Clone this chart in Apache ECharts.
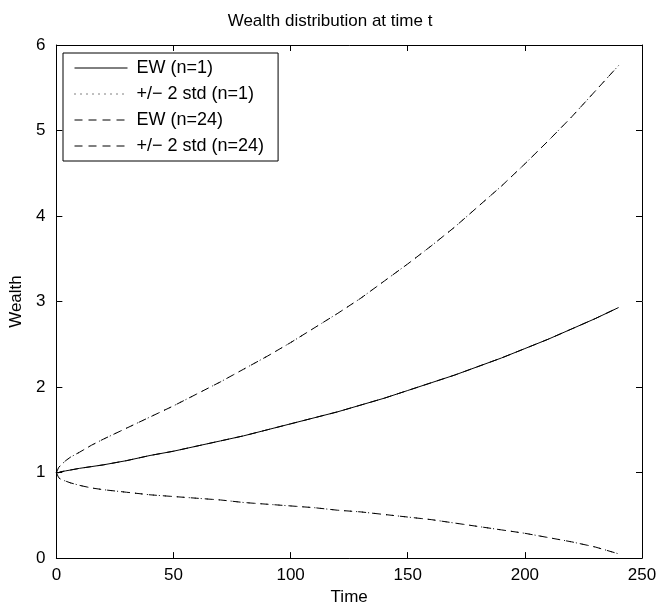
<!DOCTYPE html>
<html>
<head>
<meta charset="utf-8">
<script src="https://cdn.jsdelivr.net/npm/echarts@6/dist/echarts.min.js"></script>
<style>html,body{margin:0;padding:0;background:#fff}#c{width:660px;height:611px}</style>
</head>
<body>
<div id="c"></div>
<script>
// Values
const time   = [0, 1, 2, 4, 6, 10, 15, 20, 30, 40, 50, 60, 70, 80, 90, 100, 110, 120, 130, 140, 150, 160, 170, 180, 190, 200, 210, 220, 230, 240];
const ewN1   = [1.00, 1.00, 1.01, 1.02, 1.03, 1.05, 1.07, 1.09, 1.14, 1.20, 1.25, 1.31, 1.37, 1.43, 1.50, 1.57, 1.64, 1.71, 1.79, 1.87, 1.96, 2.05, 2.14, 2.24, 2.34, 2.45, 2.56, 2.68, 2.80, 2.93];
const upN1   = [1.00, 1.06, 1.09, 1.14, 1.18, 1.24, 1.32, 1.39, 1.52, 1.65, 1.78, 1.92, 2.06, 2.21, 2.36, 2.52, 2.69, 2.86, 3.04, 3.24, 3.44, 3.65, 3.87, 4.11, 4.35, 4.61, 4.88, 5.16, 5.46, 5.76];
const loN1   = [1.00, 0.94, 0.92, 0.90, 0.88, 0.85, 0.82, 0.80, 0.77, 0.74, 0.72, 0.70, 0.68, 0.65, 0.63, 0.61, 0.59, 0.56, 0.54, 0.51, 0.48, 0.45, 0.41, 0.37, 0.33, 0.29, 0.24, 0.19, 0.13, 0.05];
const ewN24  = [1.00, 1.00, 1.01, 1.02, 1.03, 1.05, 1.07, 1.09, 1.14, 1.20, 1.25, 1.31, 1.37, 1.43, 1.50, 1.57, 1.64, 1.71, 1.79, 1.87, 1.96, 2.05, 2.14, 2.24, 2.34, 2.45, 2.56, 2.68, 2.80, 2.93];
const upN24  = [1.00, 1.06, 1.09, 1.14, 1.18, 1.24, 1.32, 1.39, 1.52, 1.65, 1.78, 1.92, 2.06, 2.21, 2.36, 2.52, 2.69, 2.86, 3.04, 3.24, 3.44, 3.65, 3.87, 4.11, 4.35, 4.61, 4.88, 5.16, 5.46, 5.76];
const loN24  = [1.00, 0.94, 0.92, 0.90, 0.88, 0.85, 0.82, 0.80, 0.77, 0.74, 0.72, 0.70, 0.68, 0.65, 0.63, 0.61, 0.59, 0.56, 0.54, 0.51, 0.48, 0.45, 0.41, 0.37, 0.33, 0.29, 0.24, 0.19, 0.13, 0.05];
const xTicks = [0, 50, 100, 150, 200, 250];
const yTicks = [0, 1, 2, 3, 4, 5, 6];
const names  = ['EW (n=1)', '+/\u2212 2 std (n=1)', 'EW (n=24)', '+/\u2212 2 std (n=24)'];
const titleText = 'Wealth distribution at time t';

const pairs = ys => time.map((t, i) => [t, ys[i]]);
const FONT = '"Liberation Sans", Arial, sans-serif';
const FS = 17;

function mk(name, ys, dash) {
  return {
    type: 'line', name: name, data: pairs(ys), showSymbol: false, symbol: 'none',
    smooth: false, animation: false, xAxisIndex: 0, yAxisIndex: 0,
    itemStyle: { color: '#000' },
    lineStyle: { color: '#000', width: 1, type: dash }
  };
}

const axisCommon = {
  type: 'value',
  axisLine: { show: true, onZero: false, lineStyle: { color: '#000', width: 1 } },
  axisTick: { show: true, inside: true, length: 6, lineStyle: { color: '#000' } },
  splitLine: { show: false },
  axisLabel: { color: '#000', fontFamily: FONT, fontSize: FS }
};

const chart = echarts.init(document.getElementById('c'), null, { renderer: 'canvas' });
chart.setOption({
  backgroundColor: '#fff',
  animation: false,
  title: {
    text: titleText, left: 'center', top: 8,
    textStyle: { fontFamily: FONT, fontSize: FS, fontWeight: 'normal', color: '#000' }
  },
  grid: { left: 55, right: 18, top: 45, bottom: 49, containLabel: false },
  xAxis: [
    Object.assign({}, axisCommon, {
      min: xTicks[0], max: xTicks[xTicks.length - 1], interval: 50, position: 'bottom',
      name: 'Time', nameLocation: 'middle', nameGap: 30,
      nameTextStyle: { fontFamily: FONT, fontSize: FS, color: '#000' },
      axisLabel: Object.assign({}, axisCommon.axisLabel, { margin: 9 })
    }),
    Object.assign({}, axisCommon, {
      min: xTicks[0], max: xTicks[xTicks.length - 1], interval: 50, position: 'top',
      axisLabel: { show: false }
    })
  ],
  yAxis: [
    Object.assign({}, axisCommon, {
      min: yTicks[0], max: yTicks[yTicks.length - 1], interval: 1, position: 'left',
      name: 'Wealth', nameLocation: 'middle', nameGap: 26,
      nameTextStyle: { fontFamily: FONT, fontSize: FS, color: '#000' },
      axisLabel: Object.assign({}, axisCommon.axisLabel, { margin: 11 })
    }),
    Object.assign({}, axisCommon, {
      min: yTicks[0], max: yTicks[yTicks.length - 1], interval: 1, position: 'right',
      axisLabel: { show: false }
    })
  ],
  legend: {
    data: names, orient: 'vertical', left: 63, top: 53,
    backgroundColor: '#fff', borderColor: '#000', borderWidth: 1, borderRadius: 0,
    padding: [6, 14, 6, 11], itemGap: 8, itemWidth: 53, itemHeight: 16,
    selectedMode: false,
    itemStyle: { opacity: 0 },
    lineStyle: { width: 1 },
    textStyle: { fontFamily: FONT, fontSize: 18, color: '#000', padding: [0, 0, 0, 4] }
  },
  series: [
    mk(names[0], ewN1, 'solid'),
    mk(names[1], upN1, [1, 5]),
    mk(names[1], loN1, [1, 5]),
    mk(names[2], ewN24, [8, 6]),
    mk(names[3], upN24, [8, 6]),
    mk(names[3], loN24, [8, 6])
  ]
});
</script>
</body>
</html>
